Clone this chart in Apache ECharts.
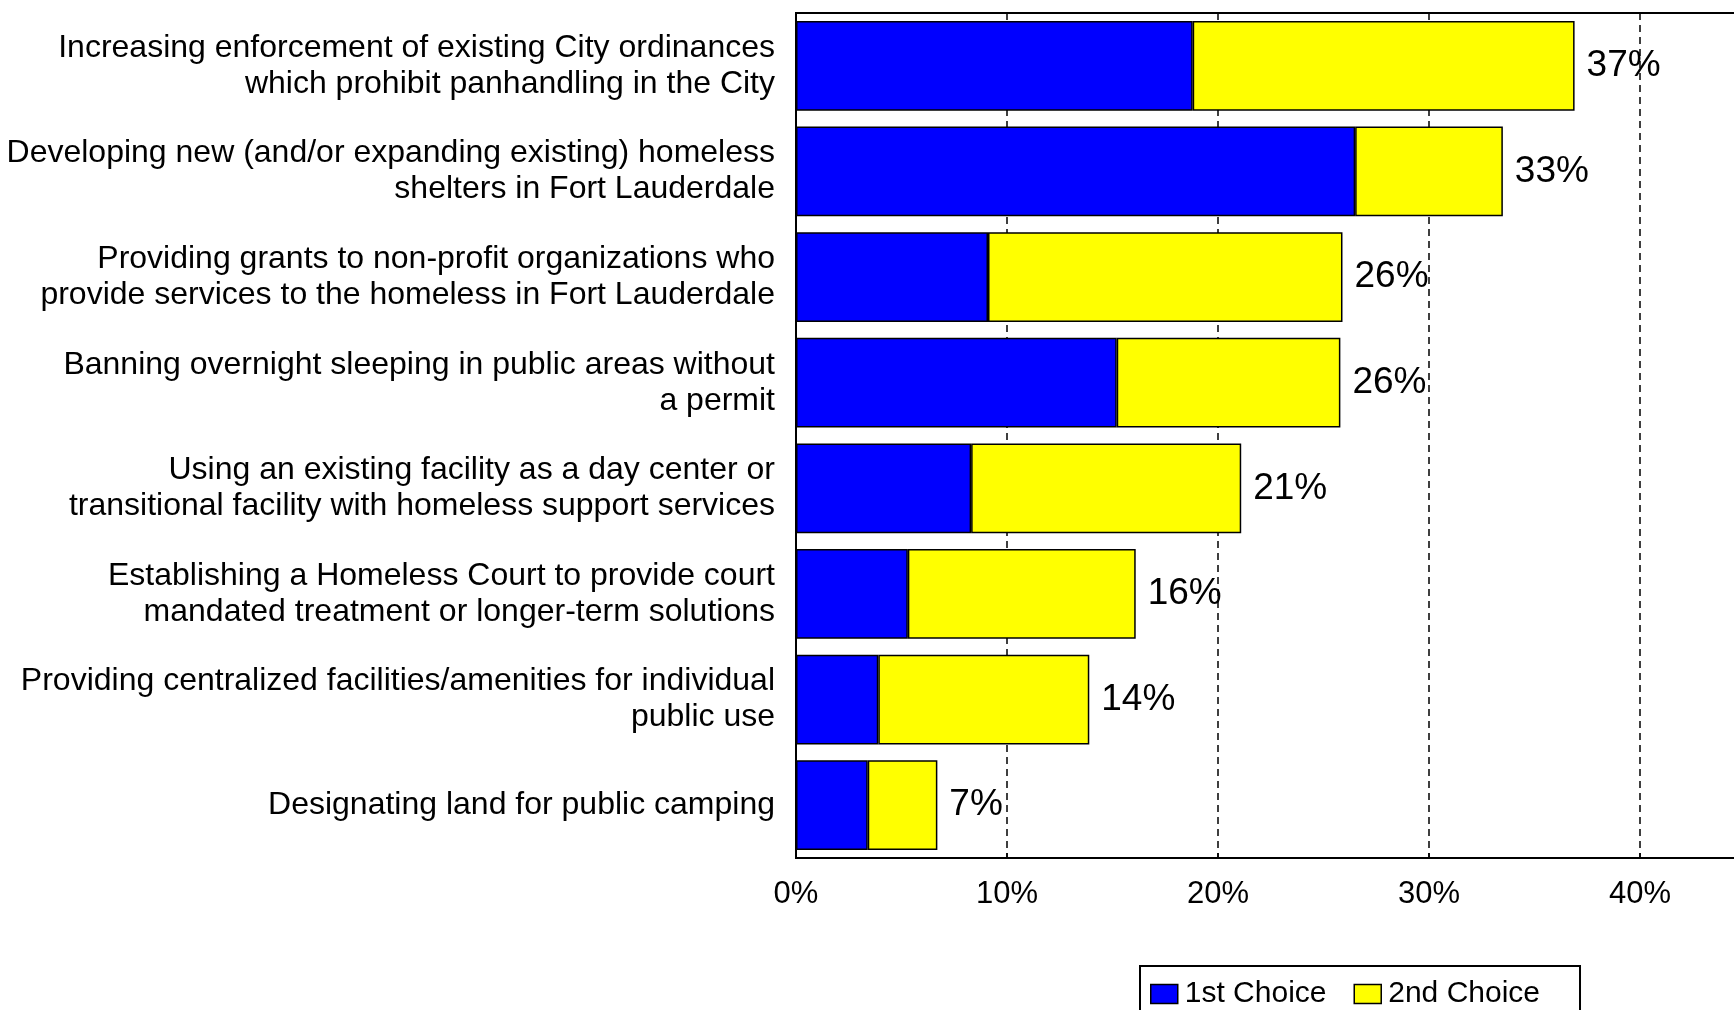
<!DOCTYPE html>
<html>
<head>
<meta charset="utf-8">
<script src="https://cdn.jsdelivr.net/npm/echarts@6/dist/echarts.min.js"></script>
<style>
html,body{margin:0;padding:0;background:#fff;}
#chart{width:1734px;height:1010px;}
</style>
</head>
<body>
<div id="chart"></div>
<script>
const categories = [
  "Increasing enforcement of existing City ordinances\nwhich prohibit panhandling in the City",
  "Developing new (and/or expanding existing) homeless\nshelters in Fort Lauderdale",
  "Providing grants to non-profit organizations who\nprovide services to the homeless in Fort Lauderdale",
  "Banning overnight sleeping in public areas without\na permit",
  "Using an existing facility as a day center or\ntransitional facility with homeless support services",
  "Establishing a Homeless Court to provide court\nmandated treatment or longer-term solutions",
  "Providing centralized facilities/amenities for individual\npublic use",
  "Designating land for public camping"
];
const firstChoice = [18.8, 26.5, 9.1, 15.2, 8.3, 5.3, 3.9, 3.4];
const secondChoice = [18.1, 7.0, 16.8, 10.6, 12.8, 10.8, 10.0, 3.3];
const totalLabels = ["37%", "33%", "26%", "26%", "21%", "16%", "14%", "7%"];
const seriesNames = ["1st Choice", "2nd Choice"];
const xTicks = [0, 10, 20, 30, 40];

const FONT = "Liberation Sans, Arial, sans-serif";
const chart = echarts.init(document.getElementById('chart'), null, {renderer: 'canvas'});
chart.setOption({
  backgroundColor: '#ffffff',
  animation: false,
  textStyle: {fontFamily: FONT, color: '#000'},
  grid: {
    left: 796, top: 13, width: 949.5, height: 845,
    outerBoundsMode: 'none',
    containLabel: false,
    show: true, borderColor: '#000', borderWidth: 2, backgroundColor: 'transparent'
  },
  legend: {
    data: seriesNames,
    left: 1140, top: 966,
    orient: 'horizontal',
    itemWidth: 27, itemHeight: 19, itemGap: 27,
    icon: 'rect',
    padding: [13, 40, 40, 10],
    borderColor: '#000', borderWidth: 2,
    backgroundColor: '#fff',
    textStyle: {fontSize: 30, color: '#000', fontFamily: FONT, padding: [0, 0, 0, 2]},
    itemStyle: {borderColor: '#000', borderWidth: 1.5}
  },
  xAxis: {
    type: 'value',
    min: xTicks[0], max: 45, interval: 10,
    axisLine: {show: true, lineStyle: {color: '#000', width: 2}},
    axisTick: {show: true, inside: true, length: 5, lineStyle: {color: '#000', width: 1.5}},
    axisLabel: {
      fontSize: 31, color: '#000', fontFamily: FONT, margin: 21,
      showMaxLabel: false,
      formatter: v => (xTicks.indexOf(v) >= 0 ? v + '%' : '')
    },
    splitLine: {show: true, lineStyle: {color: '#000', width: 1.5, type: [7, 5]}}
  },
  yAxis: {
    type: 'category',
    data: categories,
    inverse: true,
    axisLine: {show: true, lineStyle: {color: '#000', width: 2}},
    axisTick: {show: false},
    axisLabel: {fontSize: 32, lineHeight: 36, color: '#000', fontFamily: FONT, margin: 21, align: 'right'}
  },
  series: [
    {
      name: seriesNames[0], type: 'bar', stack: 'total',
      data: firstChoice,
      barCategoryGap: '15%',
      itemStyle: {color: '#0000FF', borderColor: '#000', borderWidth: 1.5},
      z: 3
    },
    {
      name: seriesNames[1], type: 'bar', stack: 'total',
      data: secondChoice,
      barCategoryGap: '15%',
      itemStyle: {color: '#FFFF00', borderColor: '#000', borderWidth: 1.5},
      label: {
        show: true, position: 'right', distance: 12,
        fontSize: 37, color: '#000', fontFamily: FONT,
        formatter: p => totalLabels[p.dataIndex]
      },
      z: 3
    }
  ]
});
</script>
</body>
</html>
